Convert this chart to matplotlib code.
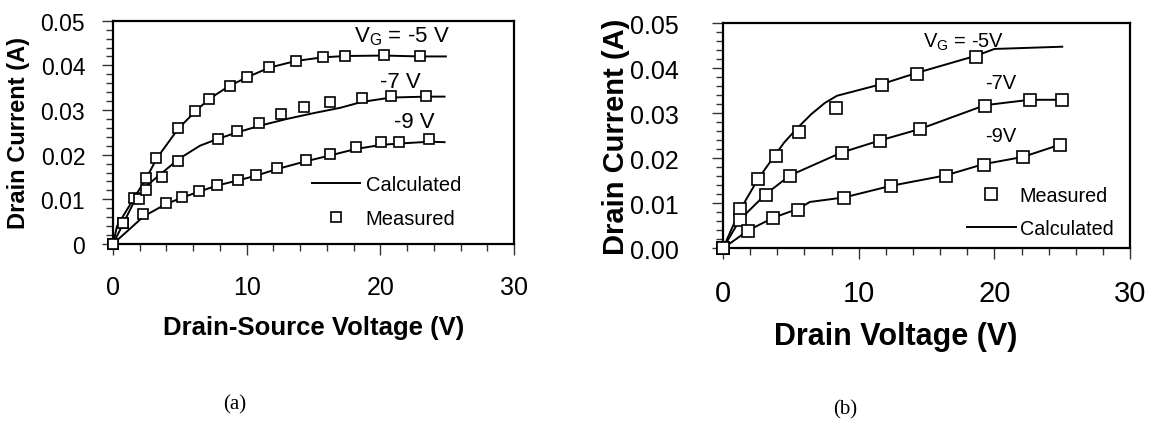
import numpy as np
import matplotlib
matplotlib.use('Agg')
from matplotlib import pyplot as plt
from matplotlib.ticker import MultipleLocator

plt.rcParams['font.family'] = ['Liberation Sans', 'DejaVu Sans']
plt.rcParams['mathtext.fontset'] = 'custom'
plt.rcParams['mathtext.rm'] = 'Liberation Sans'
plt.rcParams['mathtext.it'] = 'Liberation Sans'

# ---------------------------------------------------------------
# (a) measured / calculated, drain-source voltage
# ---------------------------------------------------------------
a_vg = ['V$_\\mathrm{G}$ = -5 V', '-7 V', '-9 V']

a_meas_x = [
    [0, 0.74, 1.6, 2.47, 3.2, 4.87, 6.16, 7.15, 8.72, 10.0, 11.68, 13.7, 15.7, 17.35, 20.3, 23.0],
    [0, 0.74, 1.98, 2.47, 3.65, 4.89, 7.83, 9.26, 10.94, 12.54, 14.3, 16.2, 18.64, 20.8, 23.45],
    [0, 2.27, 3.95, 5.19, 6.42, 7.78, 9.33, 10.67, 12.3, 14.4, 16.2, 18.15, 20.07, 21.36, 23.65],
]
a_meas_y = [
    [0, 0.0047, 0.0104, 0.0148, 0.0193, 0.0259, 0.0298, 0.0325, 0.0354, 0.0373, 0.0396, 0.041, 0.0418, 0.0422, 0.0423, 0.042],
    [0, 0.0047, 0.0101, 0.0121, 0.0151, 0.0185, 0.0235, 0.0254, 0.0272, 0.0291, 0.0306, 0.0317, 0.0326, 0.0331, 0.0331],
    [0, 0.0067, 0.0092, 0.0106, 0.0118, 0.0133, 0.0143, 0.0155, 0.017, 0.0188, 0.0201, 0.0218, 0.0228, 0.0229, 0.0234],
]
a_calc_x = [
    [0, 0.3, 1.6, 2.5, 3.3, 4.9, 6.2, 7.2, 8.7, 10.0, 11.7, 13.7, 15.7, 17.4, 20.3, 23.0, 24.9],
    [0, 1.5, 2.5, 3.7, 4.9, 6.5, 7.8, 9.3, 11.0, 13.0, 15.0, 17.0, 18.6, 20.8, 23.5, 24.8],
    [0, 2.3, 4.0, 5.2, 6.4, 7.8, 9.3, 10.7, 12.3, 14.4, 16.2, 18.2, 20.1, 21.4, 23.7, 24.8],
]
a_calc_y = [
    [0, 0.004, 0.0104, 0.0148, 0.0193, 0.0259, 0.0298, 0.0325, 0.0354, 0.0373, 0.0395, 0.041, 0.0418, 0.0421, 0.0422, 0.042, 0.042],
    [0, 0.009, 0.013, 0.016, 0.019, 0.022, 0.0235, 0.025, 0.0265, 0.028, 0.0293, 0.0305, 0.0318, 0.0328, 0.033, 0.033],
    [0, 0.0062, 0.009, 0.0104, 0.0117, 0.0131, 0.0142, 0.0153, 0.0168, 0.0185, 0.0198, 0.0213, 0.0222, 0.0225, 0.0229, 0.0228],
]
a_lab_pos = [(18.0, 0.0466), (20.0, 0.0363), (21.0, 0.0274)]
a_yticks = [0, 0.01, 0.02, 0.03, 0.04, 0.05]
a_yticklabels = ['0', '0.01', '0.02', '0.03', '0.04', '0.05']

# ---------------------------------------------------------------
# (b) measured / calculated, drain voltage
# ---------------------------------------------------------------
b_vg = ['V$_\\mathrm{G}$ = -5V', '-7V', '-9V']

b_meas_x = [
    [0, 1.25, 2.6, 3.9, 5.58, 8.33, 11.7, 14.3, 18.65],
    [0, 1.25, 3.17, 4.94, 8.75, 11.6, 14.5, 19.3, 22.6, 25.0],
    [0, 1.87, 3.71, 5.55, 8.92, 12.4, 16.4, 19.2, 22.1, 24.8],
]
b_meas_y = [
    [0, 0.0087, 0.0154, 0.0206, 0.0259, 0.0311, 0.0363, 0.0387, 0.0426],
    [0, 0.0062, 0.0119, 0.0161, 0.0212, 0.0239, 0.0264, 0.0317, 0.033, 0.033],
    [0, 0.0039, 0.0067, 0.0086, 0.0112, 0.0138, 0.0161, 0.0186, 0.0202, 0.023],
]
b_calc_x = [
    [0, 1.25, 2.6, 3.9, 4.5, 5.5, 6.5, 7.5, 8.4, 11.7, 14.3, 18.65, 20.0, 25.0],
    [0, 1.25, 3.17, 4.94, 8.75, 11.6, 14.5, 19.3, 22.6, 25.0],
    [0, 1.87, 3.71, 5.55, 6.4, 8.92, 12.4, 16.4, 19.2, 22.1, 24.8],
]
b_calc_y = [
    [0, 0.0085, 0.0155, 0.021, 0.0235, 0.0268, 0.0298, 0.0323, 0.0339, 0.0365, 0.039, 0.0428, 0.0443, 0.0448],
    [0, 0.0064, 0.0121, 0.0162, 0.0213, 0.024, 0.0265, 0.0318, 0.033, 0.033],
    [0, 0.004, 0.0068, 0.0088, 0.0103, 0.0113, 0.0139, 0.0162, 0.0187, 0.0203, 0.023],
]
b_lab_pos = [(14.7, 0.0461), (19.3, 0.0369), (19.3, 0.025)]
b_yticks = [0, 0.01, 0.02, 0.03, 0.04, 0.05]
b_yticklabels = ['0.00', '0.01', '0.02', '0.03', '0.04', '0.05']

xticks = [0, 10, 20, 30]

fig = plt.figure(figsize=(11.58, 4.31), dpi=100)
axa = fig.add_axes([0.0976, 0.4316, 0.3463, 0.518])
axb = fig.add_axes([0.6244, 0.4216, 0.3515, 0.522])


def draw(ax, mx, my, cx, cy, labels, lab_pos, msize, lw, fs):
    for i in range(3):
        ax.plot(cx[i], cy[i], color='black', lw=lw, zorder=3, clip_on=False,
                label='Calculated' if i == 0 else None)
        ax.plot(mx[i], my[i], ls='none', marker='s', ms=msize, mfc='white',
                mec='black', mew=1.2, zorder=4, clip_on=False,
                label='Measured' if i == 0 else None)
        ax.text(lab_pos[i][0], lab_pos[i][1], labels[i], fontsize=fs,
                ha='left', va='center')
    ax.set_xlim(0, 30)
    ax.set_ylim(0, 0.05)
    ax.xaxis.set_minor_locator(MultipleLocator(2))
    ax.yaxis.set_minor_locator(MultipleLocator(0.002))
    for s in ax.spines.values():
        s.set_linewidth(1.6)
    ax.tick_params(which='both', direction='out', width=1.0, color='#333333')
    ax.tick_params(which='major', length=8)
    ax.tick_params(which='minor', length=5)


draw(axa, a_meas_x, a_meas_y, a_calc_x, a_calc_y, a_vg, a_lab_pos, 7.5, 1.4, 16)
draw(axb, b_meas_x, b_meas_y, b_calc_x, b_calc_y, b_vg, b_lab_pos, 8.0, 1.4, 14.5)

axa.set_xticks(xticks)
axa.set_yticks(a_yticks, a_yticklabels)
axb.set_xticks(xticks)
axb.set_yticks(b_yticks, b_yticklabels)
axa.tick_params(axis='y', which='major', labelsize=16.5, pad=12)
axa.tick_params(axis='x', which='major', labelsize=18, pad=14)
axb.tick_params(axis='y', which='major', labelsize=18, pad=24)
axb.tick_params(axis='x', which='major', labelsize=21, pad=14)

axa.set_xlabel('Drain-Source Voltage (V)', fontsize=18.5, fontweight='bold', labelpad=12)
axa.set_ylabel('Drain Current (A)', fontsize=17, fontweight='bold', labelpad=8)
axb.set_xlabel('Drain Voltage (V)', fontsize=22, fontweight='bold')
axb.xaxis.set_label_coords(0.425, -0.39)
axb.xaxis.label.set_va('center')
axb.set_ylabel('Drain Current (A)', fontsize=21, fontweight='bold', labelpad=0)

# legends
h, l = axa.get_legend_handles_labels()
axa.legend(h, l, loc='center left', bbox_to_anchor=(14.9, 0.0095),
           bbox_transform=axa.transData, frameon=False, fontsize=14.5,
           handlelength=2.35, handletextpad=0.3, borderpad=0, borderaxespad=0,
           labelspacing=0.75)
h, l = axb.get_legend_handles_labels()
axb.legend(h[::-1], l[::-1], loc='center left', bbox_to_anchor=(18.0, 0.008),
           bbox_transform=axb.transData, frameon=False, fontsize=14.2,
           handlelength=2.45, handletextpad=0.2, borderpad=0, borderaxespad=0,
           labelspacing=0.7)

fig.text(0.203, 0.06, '(a)', fontsize=15, family=['Liberation Serif'], ha='center', va='center')
fig.text(0.730, 0.05, '(b)', fontsize=15, family=['Liberation Serif'], ha='center', va='center')

fig.savefig('out.png', dpi=100)
